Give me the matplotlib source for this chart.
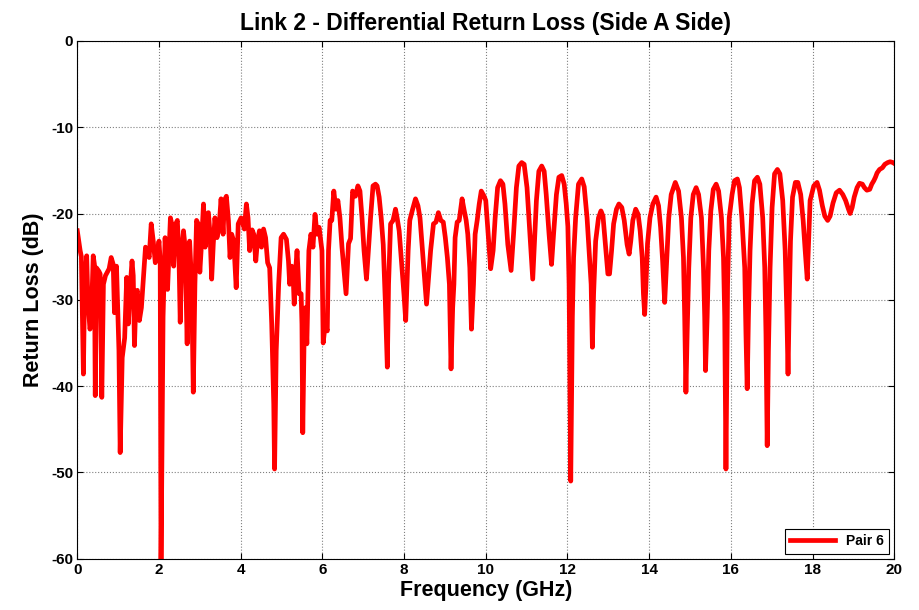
import numpy as np
import matplotlib
matplotlib.use("Agg")
from matplotlib import pyplot as plt

# measured differential return loss, pair 6
freq_ghz = [
    0.00, 0.07, 0.10, 0.15, 0.18, 0.23, 0.26, 0.31, 0.34, 0.39, 0.42, 0.44, 0.47, 0.53, 0.56,
    0.60, 0.64, 0.69, 0.78, 0.83, 0.88, 0.91, 0.96, 1.02, 1.05, 1.10, 1.16, 1.21, 1.25, 1.29,
    1.34, 1.37, 1.40, 1.44, 1.47, 1.52, 1.57, 1.62, 1.67, 1.71, 1.76, 1.81, 1.86, 1.91, 1.96,
    2.00, 2.03, 2.05, 2.10, 2.15, 2.21, 2.28, 2.33, 2.36, 2.41, 2.45, 2.49, 2.52, 2.56, 2.60,
    2.64, 2.69, 2.72, 2.75, 2.80, 2.84, 2.88, 2.92, 2.96, 3.00, 3.04, 3.09, 3.13, 3.17, 3.21,
    3.25, 3.29, 3.33, 3.37, 3.42, 3.47, 3.52, 3.57, 3.60, 3.65, 3.70, 3.74, 3.78, 3.83, 3.89,
    3.94, 4.01, 4.09, 4.14, 4.18, 4.22, 4.28, 4.32, 4.37, 4.41, 4.46, 4.51, 4.56, 4.61, 4.66,
    4.71, 4.76, 4.81, 4.83, 4.87, 4.93, 4.99, 5.05, 5.12, 5.17, 5.20, 5.25, 5.28, 5.31, 5.35,
    5.38, 5.43, 5.48, 5.50, 5.52, 5.56, 5.59, 5.62, 5.67, 5.72, 5.77, 5.82, 5.87, 5.92, 5.97,
    5.99, 6.02, 6.07, 6.12, 6.15, 6.19, 6.23, 6.28, 6.33, 6.38, 6.43, 6.48, 6.58, 6.64, 6.69,
    6.74, 6.81, 6.87, 6.92, 6.97, 7.02, 7.08, 7.12, 7.18, 7.24, 7.30, 7.34, 7.39, 7.44, 7.49,
    7.54, 7.59, 7.62, 7.67, 7.73, 7.79, 7.83, 7.88, 7.95, 8.00, 8.04, 8.10, 8.14, 8.21, 8.28,
    8.34, 8.39, 8.44, 8.49, 8.55, 8.60, 8.65, 8.72, 8.78, 8.84, 8.90, 8.96, 9.01, 9.06, 9.11,
    9.15, 9.19, 9.22, 9.25, 9.30, 9.35, 9.42, 9.47, 9.52, 9.56, 9.61, 9.65, 9.70, 9.74, 9.79,
    9.84, 9.89, 9.96, 10.00, 10.06, 10.12, 10.18, 10.23, 10.29, 10.36, 10.42, 10.47, 10.54, 10.62, 10.68,
    10.75, 10.81, 10.88, 10.94, 11.01, 11.07, 11.12, 11.15, 11.19, 11.24, 11.30, 11.37, 11.43, 11.48, 11.55,
    11.61, 11.66, 11.73, 11.79, 11.86, 11.92, 11.97, 12.01, 12.04, 12.08, 12.12, 12.15, 12.20, 12.27, 12.35,
    12.41, 12.48, 12.53, 12.58, 12.61, 12.64, 12.69, 12.76, 12.82, 12.87, 12.93, 12.99, 13.03, 13.08, 13.13,
    13.20, 13.26, 13.33, 13.39, 13.46, 13.51, 13.55, 13.60, 13.67, 13.73, 13.78, 13.83, 13.86, 13.89, 13.92,
    13.96, 14.02, 14.09, 14.17, 14.23, 14.28, 14.33, 14.38, 14.43, 14.48, 14.54, 14.64, 14.72, 14.79, 14.84,
    14.87, 14.90, 14.93, 14.97, 15.02, 15.08, 15.15, 15.21, 15.28, 15.33, 15.36, 15.38, 15.42, 15.46, 15.51,
    15.57, 15.64, 15.70, 15.77, 15.82, 15.85, 15.88, 15.92, 15.96, 16.03, 16.09, 16.16, 16.21, 16.27, 16.34,
    16.37, 16.40, 16.43, 16.47, 16.52, 16.58, 16.65, 16.71, 16.78, 16.83, 16.86, 16.89, 16.92, 16.96, 17.01,
    17.07, 17.14, 17.20, 17.27, 17.33, 17.37, 17.40, 17.43, 17.46, 17.51, 17.58, 17.64, 17.71, 17.77, 17.82,
    17.87, 17.94, 18.03, 18.11, 18.17, 18.24, 18.30, 18.37, 18.43, 18.50, 18.58, 18.66, 18.74, 18.81, 18.88,
    18.92, 18.97, 19.02, 19.09, 19.15, 19.22, 19.27, 19.33, 19.40, 19.45, 19.50, 19.54, 19.58, 19.64, 19.71,
    19.77, 19.84, 19.90, 19.97, 20.00,
]
return_loss_db = [
    -22.0, -24.3, -25.0, -38.6, -28.0, -24.9, -30.0, -33.4, -32.8, -24.9, -25.9, -41.1, -26.3, -26.7, -27.0,
    -41.3, -28.2, -27.2, -26.4, -25.1, -25.9, -31.5, -26.1, -35.9, -47.7, -36.7, -34.4, -27.4, -32.8, -28.9,
    -25.5, -27.2, -35.3, -29.3, -28.9, -32.4, -30.9, -27.4, -23.9, -24.3, -25.1, -21.2, -23.2, -25.7, -24.7,
    -23.2, -25.5, -61.0, -32.0, -22.8, -28.8, -20.5, -21.6, -26.1, -21.2, -20.8, -25.1, -32.6, -24.3, -22.0,
    -23.9, -35.1, -25.1, -23.2, -28.2, -40.7, -28.2, -20.8, -21.2, -26.8, -23.6, -18.9, -23.9, -20.1, -19.9,
    -22.4, -27.6, -23.5, -20.5, -22.8, -21.6, -18.3, -22.4, -18.5, -18.0, -20.8, -25.1, -22.4, -23.2, -28.6,
    -21.2, -20.5, -21.8, -18.9, -20.5, -24.3, -21.9, -22.4, -25.5, -23.2, -22.0, -23.9, -21.8, -22.8, -25.7,
    -26.3, -32.8, -42.1, -49.6, -35.9, -28.2, -22.8, -22.4, -23.0, -25.5, -28.2, -26.1, -26.7, -30.5, -26.3,
    -24.3, -29.3, -29.3, -32.8, -45.4, -32.0, -30.9, -35.1, -24.3, -22.4, -23.9, -20.1, -22.4, -21.6, -23.5,
    -24.3, -35.0, -32.8, -33.6, -24.3, -20.8, -20.8, -17.4, -19.5, -18.5, -20.5, -23.9, -29.3, -23.5, -22.9,
    -17.4, -18.0, -16.8, -17.4, -20.5, -24.3, -27.6, -24.7, -20.5, -16.8, -16.6, -16.8, -18.1, -20.5, -23.6,
    -30.1, -37.8, -28.2, -21.2, -20.8, -19.5, -20.5, -22.0, -26.3, -29.5, -32.4, -24.3, -20.8, -19.5, -18.3,
    -19.1, -20.5, -23.6, -26.7, -30.5, -27.4, -24.3, -21.2, -21.0, -19.9, -20.8, -21.0, -22.8, -25.1, -28.2,
    -38.0, -30.9, -28.2, -22.8, -21.0, -20.8, -18.3, -19.6, -20.8, -22.4, -26.3, -33.4, -28.2, -22.4, -20.8,
    -18.9, -17.4, -18.0, -18.5, -22.4, -26.4, -24.3, -20.5, -17.0, -16.2, -16.6, -18.9, -23.6, -26.6, -22.4,
    -17.0, -14.5, -14.1, -14.3, -17.0, -21.6, -25.5, -27.6, -23.5, -18.5, -15.1, -14.5, -15.1, -17.8, -22.4,
    -25.9, -22.4, -17.8, -15.8, -15.6, -16.6, -18.9, -21.5, -28.2, -51.0, -32.0, -25.1, -20.5, -16.6, -16.0,
    -16.9, -20.5, -24.3, -28.2, -35.5, -29.3, -23.2, -20.5, -19.7, -20.3, -23.6, -27.0, -27.0, -24.3, -21.2,
    -19.5, -18.9, -19.3, -20.8, -23.6, -24.7, -23.2, -20.8, -19.5, -20.1, -22.0, -25.1, -29.3, -31.7, -28.5,
    -23.5, -20.5, -18.9, -18.1, -19.1, -21.6, -25.5, -30.3, -25.5, -20.5, -17.8, -16.4, -17.4, -20.5, -25.1,
    -32.0, -40.7, -33.9, -26.3, -20.5, -17.8, -17.0, -17.8, -20.5, -26.3, -32.0, -38.2, -32.0, -24.3, -19.7,
    -17.2, -16.6, -17.4, -20.5, -25.1, -32.0, -49.6, -28.2, -20.5, -17.8, -16.2, -16.0, -17.0, -20.5, -26.3,
    -34.0, -40.3, -32.0, -24.3, -18.9, -16.2, -15.8, -16.6, -20.5, -26.3, -34.0, -46.9, -35.9, -26.3, -19.3,
    -15.4, -14.9, -15.4, -18.5, -24.3, -31.3, -38.6, -30.1, -23.2, -18.1, -16.4, -16.4, -17.8, -20.8, -24.3,
    -27.6, -18.5, -16.8, -16.4, -17.3, -19.1, -20.3, -20.8, -20.3, -18.8, -17.6, -17.3, -17.8, -18.5, -19.5,
    -20.0, -19.3, -18.1, -17.0, -16.5, -16.6, -17.0, -17.3, -17.2, -16.6, -16.2, -15.8, -15.3, -14.9, -14.7,
    -14.3, -14.1, -14.0, -14.1, -14.2,
]

x_ticks = np.arange(0, 21, 2)
y_ticks = np.arange(-60, 1, 10)

plt.rcParams['font.family'] = ['Liberation Sans', 'DejaVu Sans']
plt.rcParams['font.weight'] = 'bold'
plt.rcParams['axes.unicode_minus'] = False

fig = plt.figure(figsize=(9.2, 6.1), dpi=100)
ax = fig.add_axes([0.084, 0.084, 0.888, 0.849])

ax.plot(freq_ghz, return_loss_db, color='#ff0000', linewidth=3.4, label='Pair 6',
        solid_joinstyle='round')

ax.set_xlim(0, 20)
ax.set_ylim(-60, 0)
ax.set_xticks(x_ticks)
ax.set_yticks(y_ticks)
ax.tick_params(direction='in', length=4, width=0.8, top=True, right=True,
               labelsize=11, pad=3)
for lab in ax.get_xticklabels() + ax.get_yticklabels():
    lab.set_fontweight('bold')
ax.grid(True, color='#808080', linestyle=':', linewidth=0.8)
for sp in ax.spines.values():
    sp.set_linewidth(0.8)

ax.set_title('Link 2 - Differential Return Loss (Side A Side)', fontsize=16.5,
             fontweight='bold', pad=8)
ax.set_xlabel('Frequency (GHz)', fontsize=15.5, fontweight='bold', labelpad=2)
ax.set_ylabel('Return Loss (dB)', fontsize=15.5, fontweight='bold', labelpad=5)

leg = ax.legend(loc='lower right', fontsize=10, fancybox=False, framealpha=1,
                edgecolor='black', handlelength=3.2, borderpad=0.4,
                borderaxespad=0.35)
leg.get_frame().set_linewidth(0.8)
for t in leg.get_texts():
    t.set_fontweight('bold')

fig.savefig('out.png', dpi=100)
